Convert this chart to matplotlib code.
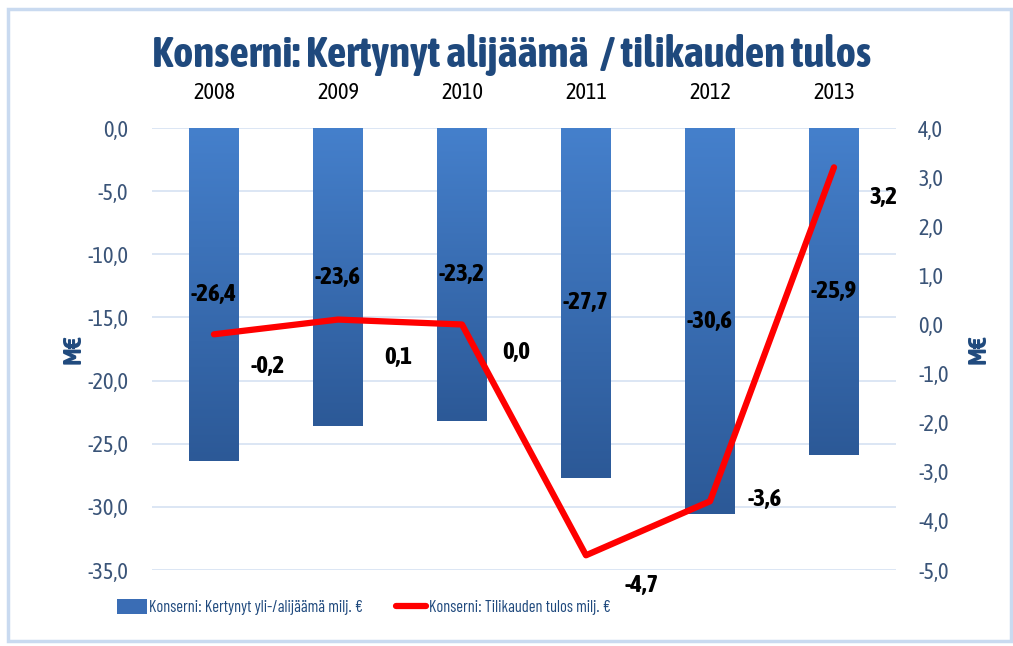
import matplotlib
matplotlib.use("Agg")
import matplotlib.pyplot as plt
import numpy as np
from matplotlib.ticker import FuncFormatter, MultipleLocator
from matplotlib.patches import Rectangle
from matplotlib.colors import LinearSegmentedColormap

plt.rcParams['font.family'] = ['Asap Condensed', 'DejaVu Sans']

years = ['2008', '2009', '2010', '2011', '2012', '2013']
accumulated = [-26.4, -23.6, -23.2, -27.7, -30.6, -25.9]
result = [-0.2, 0.1, 0.0, -4.7, -3.6, 3.2]
title = 'Konserni: Kertynyt alijäämä  / tilikauden tulos'
bar_label_name = 'Konserni: Kertynyt yli-/alijäämä milj. €'
line_label_name = 'Konserni: Tilikauden tulos milj. €'
unit = 'M€'

# styling: label offsets in pixels (dx, dy) for the line labels
line_label_offsets = [(54, -32), (60, -38), (54, -28), (56, -30), (55, 2), (50, -30)]

DARK = '#1F497D'
TICK = '#3A5478'

fig = plt.figure(figsize=(10.13, 6.46), dpi=100)
fig.patch.set_facecolor('white')
fig.add_artist(Rectangle((0.008, 0.008), 0.99, 0.978, transform=fig.transFigure,
                         fill=False, edgecolor='#C9DAF0', linewidth=2.5))

ax = fig.add_axes([0.150, 0.1176, 0.7345, 0.6842])
x = np.arange(len(years))
bars = ax.bar(x, accumulated, width=0.4, color='#3A6DB5', zorder=2,
              label=bar_label_name)
ax.set_xlim(-0.5, len(years) - 0.5)
ax.set_ylim(-35, 0)
ax.yaxis.set_major_locator(MultipleLocator(5))
fmt = FuncFormatter(lambda v, p: f"{v:.1f}".replace('.', ','))
ax.yaxis.set_major_formatter(fmt)
ax.grid(axis='y', color='#D6E2F2', linewidth=1.2, zorder=0)
ax.set_axisbelow(True)
for s in ax.spines.values():
    s.set_visible(False)
ax.tick_params(axis='y', length=0, pad=17, labelsize=16, labelcolor=TICK)
ax.xaxis.tick_top()
ax.set_xticks(x)
ax.set_xticklabels(years)
ax.tick_params(axis='x', length=0, pad=17, labelsize=16, labelcolor='black')
ax.set_ylabel(unit, fontsize=19, fontweight='bold', color=DARK, labelpad=1)

# gradient fill for bars
cmap = LinearSegmentedColormap.from_list('g', ['#2C5997', '#4580CC'])
grad = np.linspace(0, 1, 256).reshape(-1, 1)
for b in bars:
    bx, by = b.get_x(), b.get_y()
    w, h = b.get_width(), b.get_height()
    im = ax.imshow(grad, cmap=cmap, aspect='auto', origin='lower',
                   extent=[bx, bx + w, by + h, by], zorder=2.1)
    im.set_clip_path(b)

for xi, v in zip(x, accumulated):
    ax.text(xi, v / 2, f"{v:.1f}".replace('.', ','), ha='center', va='center',
            fontsize=18, fontweight='bold', color='black', zorder=5)

ax2 = ax.twinx()
ax2.set_ylim(-5, 4)
ax2.yaxis.set_major_locator(MultipleLocator(1))
ax2.yaxis.set_major_formatter(fmt)
for s in ax2.spines.values():
    s.set_visible(False)
ax2.tick_params(axis='y', length=0, pad=16, labelsize=16, labelcolor=TICK)
ax2.set_ylabel(unit, fontsize=19, fontweight='bold', color=DARK, rotation=90, labelpad=12)
line, = ax2.plot(x, result, color='#FF0000', linewidth=4.5, zorder=4,
                 solid_capstyle='round', label=line_label_name)
for xi, v, (dx, dy) in zip(x, result, line_label_offsets):
    ax2.annotate(f"{v:.1f}".replace('.', ','), (xi, v), xytext=(dx, dy),
                 textcoords='offset pixels', ha='center', va='center',
                 fontsize=18, fontweight='bold', color='black')

fig.text(0.505, 0.915, title, ha='center', va='center', fontsize=31,
         fontweight='bold', color=DARK)

leg = fig.legend(handles=[bars, line], labels=[bar_label_name, line_label_name],
                 loc='center', bbox_to_anchor=(0.359, 0.06), ncol=2, frameon=False,
                 prop={'family': ['Barlow Condensed', 'DejaVu Sans'], 'size': 11.8},
                 handlelength=1.85, handleheight=1.0, handletextpad=0.15,
                 columnspacing=2.0)
for t in leg.get_texts():
    t.set_color(DARK)

fig.savefig('out.png', dpi=100)
